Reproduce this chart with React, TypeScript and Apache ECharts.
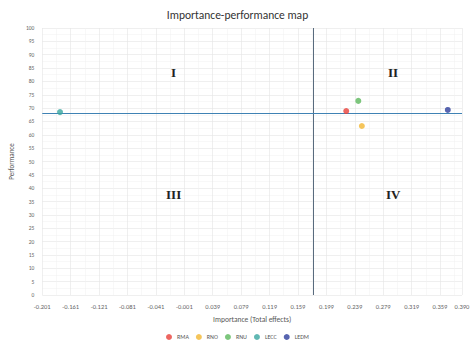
import React, { useEffect, useRef } from "react";
import * as echarts from "echarts";

const names = ["RMA", "RNO", "RNU", "LECC", "LEDM"];
const importance = [0.227, 0.249, 0.244, -0.176, 0.37];
const performance = [68.9, 63.3, 72.7, 68.5, 69.3];
const colors = ["#e8403a", "#f2b632", "#5cb85c", "#3aa6a0", "#2e3f9c"];
const meanImportance = 0.183;
const meanPerformance = 68.2;
const quadrantLabels = [
  { t: "I", x: -0.016, y: 83.5 },
  { t: "II", x: 0.293, y: 83.5 },
  { t: "III", x: -0.016, y: 37.5 },
  { t: "IV", x: 0.293, y: 37.5 },
];

export default function App() {
  const ref = useRef<HTMLDivElement>(null);
  useEffect(() => {
    const chart = echarts.init(ref.current!, null, { renderer: "svg" });
    const font = "Calibri, 'Liberation Sans', Arial, sans-serif";
    chart.setOption({
      animation: false,
      backgroundColor: "#ffffff",
      title: {
        text: "Importance-performance map",
        left: "center",
        top: 4,
        textStyle: { fontSize: 11.5, fontWeight: "normal", color: "#333", fontFamily: font },
      },
      legend: {
        bottom: 6,
        left: "center",
        itemWidth: 6,
        itemHeight: 6,
        itemGap: 7,
        icon: "circle",
        textStyle: { fontSize: 6, color: "#555", fontFamily: font },
        data: names,
      },
      grid: { left: 40, right: 13, top: 28, bottom: 56 },
      xAxis: {
        type: "value",
        min: -0.201,
        max: 0.39,
        interval: 0.04,
        name: "Importance (Total effects)",
        nameLocation: "middle",
        nameGap: 20,
        nameTextStyle: { fontSize: 7.5, color: "#555", fontFamily: font },
        axisLine: { show: false },
        axisTick: { show: false },
        axisLabel: {
          fontSize: 6.5,
          color: "#666",
          fontFamily: font,
          showMaxLabel: true,
          formatter: (v: number) => v.toFixed(3),
        },
        splitLine: { show: true, lineStyle: { color: "#e4e4e4", width: 0.6 } },
        minorTick: { show: false, splitNumber: 2 },
        minorSplitLine: { show: true, lineStyle: { color: "#f0f0f0", width: 0.5 } },
      },
      yAxis: {
        type: "value",
        min: 0,
        max: 100,
        interval: 5,
        name: "Performance",
        nameLocation: "middle",
        nameGap: 20,
        nameTextStyle: { fontSize: 7, color: "#555", fontFamily: font },
        axisLine: { show: false },
        axisTick: { show: false },
        axisLabel: { fontSize: 5.5, color: "#666", fontFamily: font },
        splitLine: { show: true, lineStyle: { color: "#e4e4e4", width: 0.6 } },
        minorTick: { show: false, splitNumber: 2 },
        minorSplitLine: { show: true, lineStyle: { color: "#f0f0f0", width: 0.5 } },
      },
      series: [
        {
          type: "scatter",
          name: "_lines",
          data: [],
          silent: true,
          markLine: {
            symbol: "none",
            silent: true,
            label: { show: false },
            data: [
              { xAxis: meanImportance, lineStyle: { color: "#596b7e", width: 1, type: "solid" } },
              { yAxis: meanPerformance, lineStyle: { color: "#3f82b4", width: 1.2, type: "solid" } },
            ],
          },
          markPoint: {
            symbol: "rect",
            symbolSize: 0.1,
            silent: true,
            itemStyle: { color: "transparent" },
            label: {
              show: true,
              fontSize: 13,
              fontWeight: "bold",
              fontFamily: "'Times New Roman', 'Liberation Serif', serif",
              color: "#222",
              formatter: (p: any) => p.name,
            },
            data: quadrantLabels.map((q) => ({ name: q.t, coord: [q.x, q.y] })),
          },
        },
        ...names.map((n, i) => ({
          type: "scatter",
          name: n,
          symbolSize: 6,
          itemStyle: { color: colors[i] },
          data: [[importance[i], performance[i]]],
          z: 5,
        })),
      ],
    });
    return () => chart.dispose();
  }, []);
  return (
    <div
      ref={ref}
      style={{ position: "absolute", left: 0, top: 0, width: 475, height: 351 }}
    />
  );
}
